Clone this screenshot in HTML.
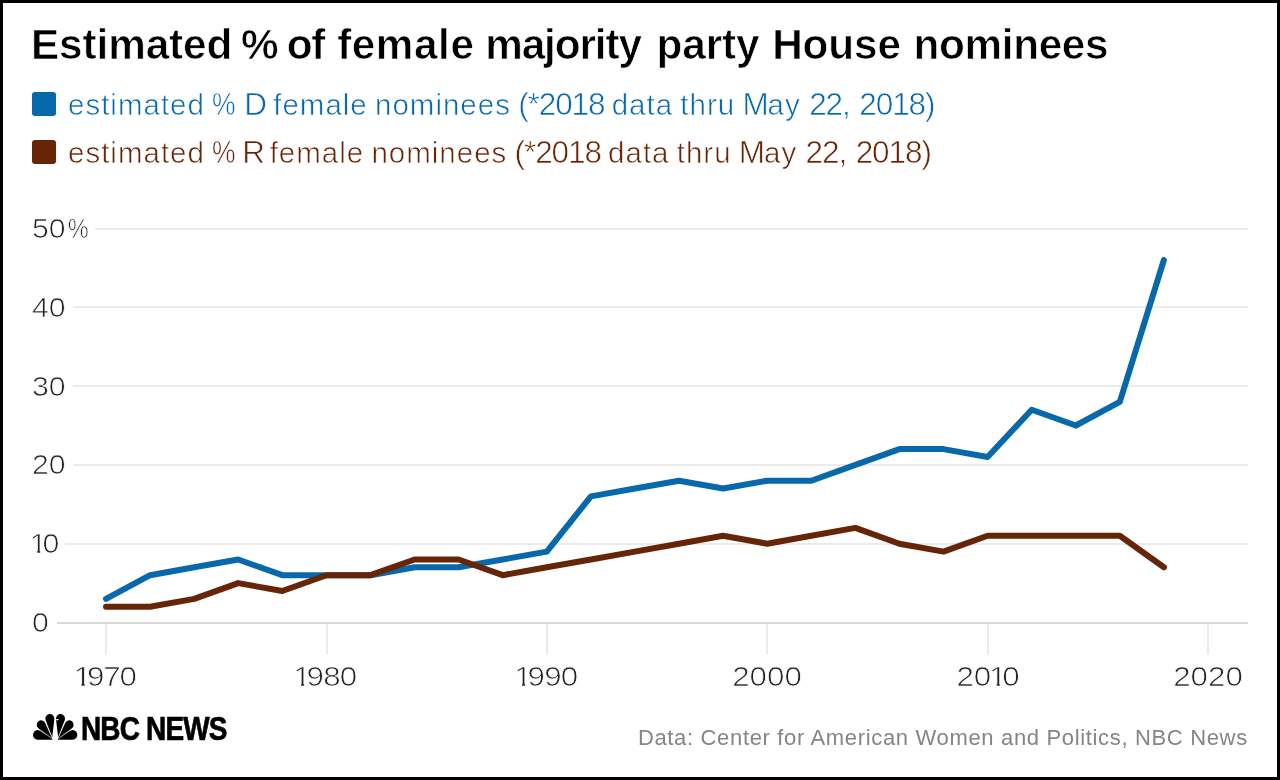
<!DOCTYPE html>
<html lang="en">
<head>
<meta charset="utf-8">
<title>Estimated % of female majority party House nominees</title>
<style>
html,body{margin:0;padding:0;background:#fff;}
body{width:1280px;height:780px;position:relative;overflow:hidden;font-family:"Liberation Sans",sans-serif;}
#frame{position:absolute;left:0;top:0;width:1274px;height:774px;border:3px solid #000;z-index:5;pointer-events:none;}
.t{position:absolute;white-space:nowrap;line-height:1;margin:0;padding:0;}
#title{left:31px;top:23.6px;font-size:42.3px;font-weight:bold;color:#000;letter-spacing:-0.1px;word-spacing:-1px;-webkit-text-stroke:0.7px #fff;}
.sw{position:absolute;left:32px;width:24px;height:24px;border-radius:3px;}
.lg{left:68px;font-size:29.5px;font-weight:normal;-webkit-text-stroke:0.6px #fff;letter-spacing:1.0px;word-spacing:-1.95px;}
.lg b{font-weight:normal;font-size:31.5px;letter-spacing:-1.1px;line-height:0;}
.lg b.pc{display:inline-block;transform-origin:0 50%;transform:scaleX(0.84);margin-right:-2px;}
.lg b.m1{margin-left:1.2px;}
.lg b.m2{margin-left:2.4px;}
.yl{left:32px;font-size:27px;color:#222;-webkit-text-stroke:0.7px #fff;transform-origin:0 0;transform:scaleX(1.12);}
.xl{font-size:27px;color:#222;-webkit-text-stroke:0.7px #fff;transform:translateX(-50%) scaleX(1.16);}
.xl i,.yl i{font-style:normal;display:inline-block;letter-spacing:0;margin-left:-2px;margin-right:-3.6px;clip-path:polygon(0 0,62% 0,62% 90%,44.5% 90%,44.5% 70%,0 70%);}
.yl u{text-decoration:none;display:inline-block;transform-origin:0 0;transform:scaleX(0.78);margin-left:1.5px;}
#src{right:32.2px;top:727px;font-size:22px;color:#858585;letter-spacing:0.66px;}
#nbc{left:81px;top:712px;font-size:33.5px;font-weight:bold;color:#000;transform-origin:0 0;transform:scaleX(0.835);letter-spacing:-1px;-webkit-text-stroke:0.7px #000;}
svg{position:absolute;left:0;top:0;}
</style>
</head>
<body>
<h1 class="t" id="title">Estimated <span style="letter-spacing:-1.3px;margin-left:-2px">% of</span> <span style="letter-spacing:0.55px;margin-left:2.5px">female</span> <span style="letter-spacing:-1.1px">majority</span> <span style="margin-left:5px">party</span> <span style="margin-left:2px">House</span> <span style="margin-left:2px;letter-spacing:-0.35px">nominees</span></h1>

<div class="sw" style="top:92px;background:#0868ac"></div>
<div class="t lg" style="top:89.7px;color:#0868ac">estimated <b class="pc">%</b> <b>D</b> female nominees <b>(*2018</b> data thru <b>M</b>ay <b class="m1">22,</b> <b class="m2">2018)</b></div>
<div class="sw" style="top:140px;background:#662506"></div>
<div class="t lg" style="top:137.7px;color:#662506">estimated <b class="pc">%</b> <b style="letter-spacing:-2.7px;margin-left:-2px">R</b> female nominees <b>(*2018</b> data thru <b>M</b>ay <b class="m1">22,</b> <b class="m2">2018)</b></div>

<svg width="1280" height="780" viewBox="0 0 1280 780">
  <g fill="#ebebeb">
    <rect x="95" y="228" width="1153" height="2"/>
    <rect x="73" y="306" width="1175" height="2"/>
    <rect x="73" y="385" width="1175" height="2"/>
    <rect x="73" y="464" width="1175" height="2"/>
    <rect x="65" y="543" width="1183" height="2"/>
    <rect x="105" y="624" width="2" height="30.5"/>
    <rect x="326" y="624" width="2" height="30.5"/>
    <rect x="546" y="624" width="2" height="30.5"/>
    <rect x="766" y="624" width="2" height="30.5"/>
    <rect x="987" y="624" width="2" height="30.5"/>
    <rect x="1207" y="624" width="2" height="30.5"/>
  </g>
  <rect x="57" y="622" width="1191" height="2" fill="#d9d9d9"/>
  <g fill="none" stroke-width="6" stroke-linecap="round" stroke-linejoin="round">
    <path stroke="#0868ac" d="M106.0 598.9 L150.1 575.2 L194.2 567.3 L238.2 559.5 L282.3 575.2 L326.4 575.2 L370.5 575.2 L414.6 567.3 L458.6 567.3 L502.7 559.5 L546.8 551.6 L590.9 496.4 L635.0 488.5 L679.0 480.7 L723.1 488.5 L767.2 480.7 L811.3 480.7 L855.4 464.9 L899.4 449.1 L943.5 449.1 L987.6 457.0 L1031.7 409.7 L1075.8 425.5 L1119.8 401.9 L1163.9 260.0"/>
    <path stroke="#662506" d="M106.0 606.7 L150.1 606.7 L194.2 598.9 L238.2 583.1 L282.3 591.0 L326.4 575.2 L370.5 575.2 L414.6 559.5 L458.6 559.5 L502.7 575.2 L546.8 567.3 L590.9 559.5 L635.0 551.6 L679.0 543.7 L723.1 535.8 L767.2 543.7 L811.3 535.8 L855.4 527.9 L899.4 543.7 L943.5 551.6 L987.6 535.8 L1031.7 535.8 L1075.8 535.8 L1119.8 535.8 L1163.9 567.3"/>
  </g>
</svg>

<div class="t yl" style="top:216px">50<u>%</u></div>
<div class="t yl" style="top:295px">40</div>
<div class="t yl" style="top:374px">30</div>
<div class="t yl" style="top:452px">20</div>
<div class="t yl" style="top:531px"><i>1</i>0</div>
<div class="t yl" style="top:610px">0</div>

<div class="t xl" style="left:106px;top:664px;letter-spacing:-1px"><i>1</i>970</div>
<div class="t xl" style="left:326.4px;top:664px;letter-spacing:-0.7px"><i>1</i>980</div>
<div class="t xl" style="left:546.8px;top:664px;letter-spacing:-0.7px"><i>1</i>990</div>
<div class="t xl" style="left:767.2px;top:664px">2000</div>
<div class="t xl" style="left:987.6px;top:664px">20<i>1</i>0</div>
<div class="t xl" style="left:1208px;top:664px">2020</div>

<svg id="pea" width="60" height="38" viewBox="0 0 1232 780" style="left:28px;top:708px">
  <defs><clipPath id="pc"><path d="M0 0H500V780H0Z M616 0H1232V780H616Z M500 0H616V600H500Z"/></clipPath></defs>
  <g clip-path="url(#pc)">
    <path fill="#000" d="M536.0 654.0 L203.0 654.0 A101.0 101.0 0 1 1 259.1 469.0 Z M497.0 620.0 L218.3 419.7 A92.0 92.0 0 1 1 355.9 307.2 Z M497.0 600.0 L362.3 251.5 A93.0 93.0 0 1 1 541.3 229.0 Z M580.0 654.0 L856.9 469.0 A101.0 101.0 0 1 1 913.0 654.0 Z M619.0 620.0 L760.1 307.2 A92.0 92.0 0 1 1 897.7 419.7 Z M619.0 600.0 L574.7 229.0 A93.0 93.0 0 1 1 753.7 251.5 Z"/>
    <g stroke="#fff" stroke-width="8" fill="none">
      <path d="M200 435L515 645M335 260L500 612M916 435L601 645M781 260L616 612"/>
    </g>
    <path fill="#fff" d="M572 228L640 228L596 262Z"/>
  </g>
</svg>
<div class="t" id="nbc">NBC NEWS</div>
<div class="t" id="src">Data: Center for American Women and Politics, NBC News</div>

<div id="frame"></div>
</body>
</html>
